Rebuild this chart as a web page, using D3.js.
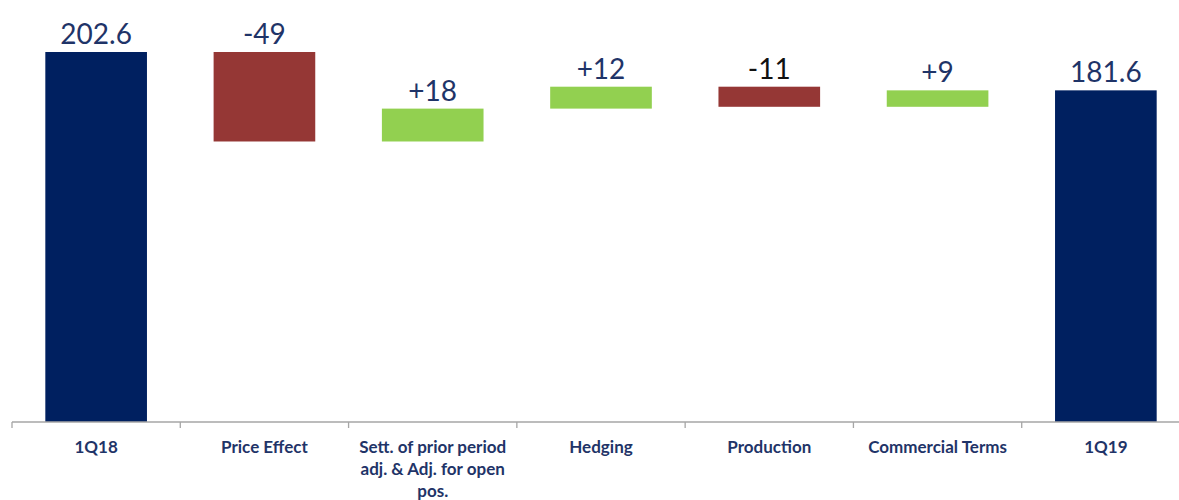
<!DOCTYPE html>
<html><head><meta charset="utf-8">
<script src="https://cdn.jsdelivr.net/npm/d3@7"></script>
<style>body{margin:0;background:#fff}svg{display:block}</style>
</head><body><svg id="c" width="1179" height="500"></svg>
<script>
const categories = ["1Q18","Price Effect","Sett. of prior period|adj. & Adj. for open|pos.","Hedging","Production","Commercial Terms","1Q19"];
const values = [202.6, -49, 18, 12, -11, 9, 181.6];
const kinds = ["total","delta","delta","delta","delta","delta","total"];
const valueLabels = ["202.6","-49","+18","+12","-11","+9","181.6"];
const labelColors = ["#1F3468","#1F3468","#1F3468","#1F3468","#111111","#1F3468","#1F3468"];

const svg = d3.select("#c");
const x = d3.scaleBand().domain(d3.range(categories.length)).range([12, 1190]).padding(0);
const y = d3.scaleLinear().domain([0, 202.6]).range([422, 52]);

let run = 0;
const bars = values.map((v, i) => {
  let lo, hi;
  if (kinds[i] === "total") { lo = 0; hi = v; run = v; }
  else { const s = run; run = run + v; lo = Math.min(s, run); hi = Math.max(s, run); }
  return {i, v, lo, hi, kind: kinds[i]};
});
const color = d => d.kind === "total" ? "#002060" : (d.v < 0 ? "#953735" : "#92D050");
const bw = x.bandwidth() * 0.604;

svg.selectAll("rect.bar").data(bars).join("rect")
  .attr("x", d => x(d.i) + (x.bandwidth() - bw) / 2)
  .attr("width", bw)
  .attr("y", d => y(d.hi))
  .attr("height", d => y(d.lo) - y(d.hi))
  .attr("fill", color);

svg.selectAll("text.val").data(bars).join("text")
  .attr("x", d => x(d.i) + x.bandwidth() / 2)
  .attr("y", d => y(d.hi) - 8)
  .attr("text-anchor", "middle")
  .attr("font-family", "Lato, 'Open Sans', sans-serif")
  .attr("font-size", 28)
  .attr("fill", (d) => labelColors[d.i])
  .text(d => valueLabels[d.i]);

// axis
const axis = d3.axisBottom(x).tickSize(0).tickFormat("");
const g = svg.append("g").attr("transform", `translate(0,${y(0)})`).call(axis);
g.select(".domain").attr("stroke", "#A6A6A6").attr("stroke-width", 1.3).attr("d", `M12,0H1179`);
g.selectAll(".bound").data(d3.range(categories.length + 1)).join("line")
  .attr("x1", i => x.range()[0] + i * x.step()).attr("x2", i => x.range()[0] + i * x.step())
  .attr("y1", 0).attr("y2", 6).attr("stroke", "#A6A6A6").attr("stroke-width", 1.3);

const cat = svg.selectAll("text.cat").data(categories).join("text")
  .attr("x", (d, i) => x(i) + x.bandwidth() / 2)
  .attr("y", 453)
  .attr("text-anchor", "middle")
  .attr("font-family", "Lato, 'Open Sans', sans-serif")
  .attr("font-weight", "bold")
  .attr("font-size", 17)
  .attr("fill", "#1F3468");
cat.each(function(d) {
  d.split("|").forEach((line, k) => {
    d3.select(this).append("tspan").attr("x", d3.select(this).attr("x")).attr("dy", k === 0 ? 0 : 22).text(line);
  });
});
</script></body></html>
